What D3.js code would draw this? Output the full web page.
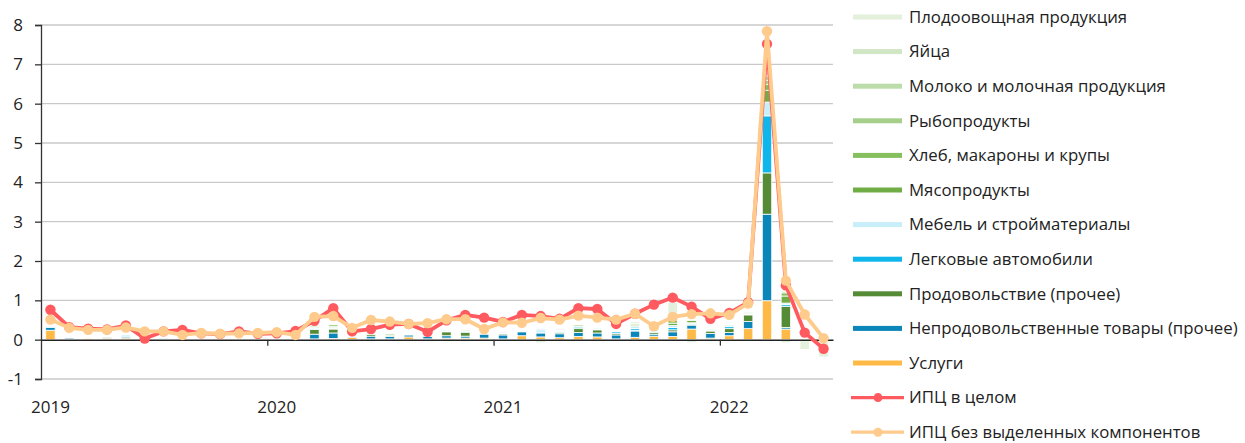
<!DOCTYPE html>
<html lang="ru">
<head>
<meta charset="utf-8">
<script src="https://cdn.jsdelivr.net/npm/d3@7/dist/d3.min.js"></script>
<style>
  html, body { margin: 0; padding: 0; background: #fff; }
  svg { display: block; font-family: "Open Sans", sans-serif; }
  .tick text { fill: #222; }
</style>
</head>
<body>
<div id="chart"></div>
<script>
// ── данные ───────────────────────────────────────────────────────────────
const months = [
  '2019-01','2019-02','2019-03','2019-04','2019-05','2019-06','2019-07','2019-08','2019-09','2019-10','2019-11','2019-12',
  '2020-01','2020-02','2020-03','2020-04','2020-05','2020-06','2020-07','2020-08','2020-09','2020-10','2020-11','2020-12',
  '2021-01','2021-02','2021-03','2021-04','2021-05','2021-06','2021-07','2021-08','2021-09','2021-10','2021-11','2021-12',
  '2022-01','2022-02','2022-03','2022-04','2022-05','2022-06'
];
const yearLabels = ['2019', '2020', '2021', '2022'];
const yTicks = [-1, 0, 1, 2, 3, 4, 5, 6, 7, 8];

// порядок: снизу вверх в столбце
const seriesNames = [
  'Услуги',
  'Непродовольственные товары (прочее)',
  'Продовольствие (прочее)',
  'Легковые автомобили',
  'Мебель и стройматериалы',
  'Мясопродукты',
  'Хлеб, макароны и крупы',
  'Рыбопродукты',
  'Молоко и молочная продукция',
  'Яйца',
  'Плодоовощная продукция'
];
const seriesColors = ['#ffb946', '#0a86b9', '#558b36', '#0fb6ec', '#c8eefa',
                      '#70ad47', '#86bf5e', '#a6cf8c', '#bcdcaa', '#d0e6c4', '#e3f0dc'];

const services = [0.24,0.02,0.03,0.04,0.04,0,0,0,0,0,0,0,
  0,0,0.02,0.03,0.06,0.02,0.02,0.07,0.02,0.04,0.04,0.04,
  0.02,0.1,0.07,0.05,0.08,0.07,0.02,0.06,0.09,0.08,0.27,0.04,
  0.1,0.28,0.99,0.27,0.02,0];
const nonFood = [0.07,0.03,0,0.01,0.03,0,0.02,0,0,0,0,0,
  0,0,0.12,0.14,0.02,0.07,0.06,0.05,0.06,0.06,0.05,0.1,
  0.1,0.1,0.1,0.1,0.1,0.1,0.1,0.16,0.05,0.12,0.1,0.12,
  0.08,0.18,2.2,0.04,0,0];
const foodOther = [0,0,0,0,0,0,0,0,0,0,0,0,
  0,0,0.12,0.1,0,0.04,0.03,0,0,0.1,0.1,0.02,
  0.03,0,0.02,0.03,0.1,0.08,0.04,0.02,0.04,0.05,0.02,0.06,
  0.1,0.17,1.05,0.54,0,0];
const cars = [0.02,0,0,0,0,0,0,0,0,0,0,0,
  0,0,0.02,0.02,0,0,0,0.02,0,0.02,0.02,0.01,
  0.02,0.01,0.03,0.03,0.04,0.02,0.04,0.04,0.02,0.06,0.02,0.02,
  0.05,0.02,1.45,0.04,0,0];
const furniture = [0.03,0.02,0,0,0.05,0,0,0,0,0,0,0,
  0,0,0.03,0.02,0.03,0,0,0,0,0.03,0.03,0.02,
  0.03,0,0.05,0.02,0.02,0.03,0.02,0.06,0.05,0.05,0.02,0.03,
  0.04,0.02,0.35,0.04,0,0];
const meat = [0,0,0,0,0,0,0,0,0,0,0,0,
  0,0,0.02,0.03,0,0.02,0.03,0,0,0.02,0.02,0,
  0.02,0,0,0.02,0.03,0.02,0,0.03,0.05,0.06,0.06,0.02,
  0.02,0.02,0.3,0.18,0,0];
const bread = [0,0,0,0,0,0,0,0,0,0,0,0,
  0,0,0.03,0.04,0,0,0,0,0,0,0,0,
  0.02,0,0,0,0,0,0,0.03,0.08,0.08,0.02,0,
  0,0.01,0.15,0.08,0,0];
const fish = [0,0,0,0,0,0,0,0,0,0,0,0,
  0,0,0.02,0.01,0,0,0,0,0,0,0,0,
  0,0,0,0,0,0,0,0.02,0.02,0.05,0.02,0,
  0,0,0.1,0.03,0,0];
const milk = [0,0,0,0,0,0,0,0,0,0,0,0,
  0,0,0.02,0.02,0,0,0,0,0,0,0,0,
  0,0,0,0,0,0,0,0.03,0.05,0.07,0,0,
  0,0,0.1,0.03,0,0];
const eggs = [0,0,0,0,0,0,0,0,0,0,0,0,
  0,0,0,0.01,0,0,0,0,0,0,0,0,
  0,0,0,0,0,0,0,0,0,0.03,0,0,
  0,0,0.02,0,-0.03,-0.06];
const fruitVeg = [0,0,0,0,0,-0.08,0,0,0,0,0,0,
  0,0,0,0.02,0,0,0,0,0,0,0,0,
  0,0,-0.08,0,0,0,-0.05,0,0,0.3,-0.07,-0.05,
  0,0,0.1,-0.08,-0.22,-0.38];

const cpiTotal = [0.76,0.32,0.28,0.26,0.36,0.03,0.21,0.25,0.16,0.14,0.21,0.15,
  0.16,0.22,0.48,0.8,0.21,0.27,0.38,0.4,0.2,0.49,0.63,0.56,
  0.45,0.63,0.6,0.53,0.8,0.78,0.4,0.66,0.89,1.07,0.84,0.53,
  0.68,0.95,7.52,1.38,0.18,-0.23];
const cpiCore = [0.51,0.3,0.25,0.25,0.31,0.21,0.21,0.12,0.17,0.15,0.16,0.17,
  0.19,0.12,0.58,0.6,0.3,0.5,0.46,0.4,0.42,0.52,0.52,0.27,
  0.44,0.43,0.55,0.51,0.61,0.56,0.51,0.66,0.34,0.58,0.65,0.67,
  0.63,0.92,7.84,1.5,0.64,0.04];

const lineNames  = ['ИПЦ в целом', 'ИПЦ без выделенных компонентов'];
const lineColors = ['#ff5a5f', '#ffcb8c'];

// ── сборка таблицы для d3.stack ─────────────────────────────────────────
const seriesValues = [services, nonFood, foodOther, cars, furniture, meat, bread, fish, milk, eggs, fruitVeg];
const table = months.map((m, i) => {
  const row = { month: m };
  seriesNames.forEach((n, k) => (row[n] = seriesValues[k][i]));
  return row;
});

// ── размеры ─────────────────────────────────────────────────────────────
const W = 1245, H = 443;
const plot = { left: 41, right: 833, top: 25, bottom: 379 };

const svg = d3.select('#chart').append('svg')
  .attr('width', W).attr('height', H);

const x = d3.scaleBand()
  .domain(months)
  .range([plot.left, plot.right])
  .paddingInner(0.5)
  .paddingOuter(0.25);

const y = d3.scaleLinear()
  .domain([-1, 8])
  .range([plot.bottom, plot.top]);

// линейная шкала по индексу месяца — для засечек на границах лет
const xIdx = d3.scaleLinear().domain([0, months.length]).range([plot.left, plot.right]);

// ── сетка ──
svg.append('g')
  .selectAll('line')
  .data(yTicks.filter(t => t !== 0))
  .enter().append('line')
  .attr('x1', plot.left).attr('x2', plot.right)
  .attr('y1', d => y(d)).attr('y2', d => y(d))
  .attr('stroke', '#c9c9c9').attr('stroke-width', 1.3);

// ── столбцы ──
const stack = d3.stack()
  .keys(seriesNames)
  .offset(d3.stackOffsetDiverging);
const layers = stack(table);

svg.append('g').attr('class', 'bars')
  .selectAll('g')
  .data(layers)
  .enter().append('g')
  .attr('fill', (d, k) => seriesColors[k])
  .selectAll('rect')
  .data(d => d.filter(s => Math.abs(s[1] - s[0]) > 1e-9))
  .enter().append('rect')
  .attr('x', d => x(d.data.month))
  .attr('width', x.bandwidth())
  .attr('y', d => y(Math.max(d[0], d[1])))
  .attr('height', d => Math.abs(y(d[0]) - y(d[1])))
  .attr('stroke', '#fff')
  .attr('stroke-width', 0.8);

// ── оси ──
const yAxis = svg.append('g')
  .attr('transform', `translate(${plot.left},0)`)
  .call(d3.axisLeft(y).tickValues(yTicks).tickSize(6).tickPadding(12).tickFormat(d => String(d)));
yAxis.select('.domain').attr('stroke', '#333').attr('stroke-width', 1.3);
yAxis.selectAll('.tick line').attr('stroke', '#333').attr('stroke-width', 1.3);
yAxis.selectAll('.tick text').attr('font-size', 17).attr('font-family', '"Open Sans", sans-serif');

// нулевая линия с засечками между годами
const xAxis = svg.append('g')
  .attr('transform', `translate(0,${y(0)})`)
  .call(d3.axisBottom(xIdx).tickValues([12, 24, 36]).tickSize(6).tickSizeOuter(0).tickFormat(''));
xAxis.select('.domain').attr('stroke', '#222').attr('stroke-width', 1.5);
xAxis.selectAll('.tick line').attr('stroke', '#333').attr('stroke-width', 1.3);

// подписи лет — под январём, внизу области графика
svg.append('g')
  .selectAll('text')
  .data(yearLabels)
  .enter().append('text')
  .attr('x', d => x(d + '-01') + x.bandwidth() / 2)
  .attr('y', 413)
  .attr('text-anchor', 'middle')
  .attr('font-size', 17)
  .attr('fill', '#222')
  .text(d => d);

// ── линии ──
const lines = [cpiTotal, cpiCore];
const lineGen = d3.line()
  .x((d, i) => x(months[i]) + x.bandwidth() / 2)
  .y(d => y(d));

lines.forEach((vals, k) => {
  const g = svg.append('g');
  g.append('path')
    .datum(vals)
    .attr('fill', 'none')
    .attr('stroke', lineColors[k])
    .attr('stroke-width', 3.8)
    .attr('stroke-linejoin', 'round')
    .attr('d', lineGen);
  g.selectAll('circle')
    .data(vals)
    .enter().append('circle')
    .attr('cx', (d, i) => x(months[i]) + x.bandwidth() / 2)
    .attr('cy', d => y(d))
    .attr('r', 5.2)
    .attr('fill', lineColors[k]);
});

// ── легенда ──
const legendItems = seriesNames.map((n, k) => ({ name: n, color: seriesColors[k], kind: 'bar' })).reverse()
  .concat(lineNames.map((n, k) => ({ name: n, color: lineColors[k], kind: 'line' })));

const legend = svg.append('g').attr('transform', 'translate(852,17)');
const item = legend.selectAll('g')
  .data(legendItems)
  .enter().append('g')
  .attr('transform', (d, i) => `translate(0,${i * 34.6})`);

item.filter(d => d.kind === 'bar').append('rect')
  .attr('x', 1).attr('y', -2.5)
  .attr('width', 49).attr('height', 5)
  .attr('fill', d => d.color);

item.filter(d => d.kind === 'line').append('line')
  .attr('x1', -1).attr('x2', 52).attr('y1', 0).attr('y2', 0)
  .attr('stroke', d => d.color).attr('stroke-width', 3.2);
item.filter(d => d.kind === 'line').append('circle')
  .attr('cx', 26).attr('cy', 0).attr('r', 4.5)
  .attr('fill', d => d.color);

item.append('text')
  .attr('x', 57).attr('y', 0).attr('dy', '0.35em')
  .attr('font-size', 16.8)
  .attr('fill', '#222')
  .text(d => d.name);
</script>
</body>
</html>
